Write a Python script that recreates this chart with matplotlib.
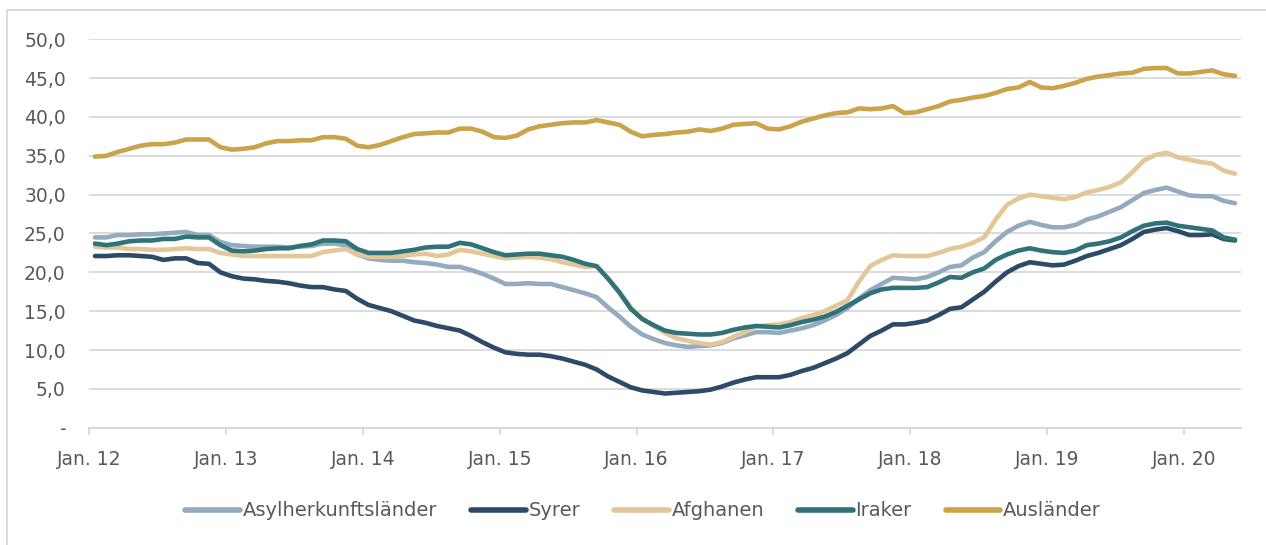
import matplotlib
matplotlib.use("Agg")
import matplotlib.pyplot as plt
from matplotlib.patches import Rectangle
import numpy as np

# Monthly data, Jan 2012 .. May 2020 (101 months)
tick_labels = ["Jan. 12", "Jan. 13", "Jan. 14", "Jan. 15", "Jan. 16",
               "Jan. 17", "Jan. 18", "Jan. 19", "Jan. 20"]
y_labels = ["-", "5,0", "10,0", "15,0", "20,0", "25,0", "30,0", "35,0",
            "40,0", "45,0", "50,0"]

auslaender = [34.9, 35.0, 35.5, 35.9, 36.3, 36.5, 36.5, 36.7, 37.1, 37.1, 37.1, 36.1,
              35.8, 35.9, 36.1, 36.6, 36.9, 36.9, 37.0, 37.0, 37.4, 37.4, 37.2, 36.3,
              36.1, 36.4, 36.9, 37.4, 37.8, 37.9, 38.0, 38.0, 38.5, 38.5, 38.1, 37.4,
              37.3, 37.6, 38.4, 38.8, 39.0, 39.2, 39.3, 39.3, 39.6, 39.3, 39.0, 38.1,
              37.5, 37.7, 37.8, 38.0, 38.1, 38.4, 38.2, 38.5, 39.0, 39.1, 39.2, 38.5,
              38.4, 38.8, 39.4, 39.8, 40.2, 40.5, 40.6, 41.1, 41.0, 41.1, 41.4, 40.5,
              40.6, 41.0, 41.4, 42.0, 42.2, 42.5, 42.7, 43.1, 43.6, 43.8, 44.5, 43.8,
              43.7, 44.0, 44.4, 44.9, 45.2, 45.4, 45.6, 45.7, 46.2, 46.3, 46.3, 45.6,
              45.6, 45.8, 46.0, 45.5, 45.3]

syrer = [22.1, 22.1, 22.2, 22.2, 22.1, 22.0, 21.6, 21.8, 21.8, 21.2, 21.1, 20.0,
         19.5, 19.2, 19.1, 18.9, 18.8, 18.6, 18.3, 18.1, 18.1, 17.8, 17.6, 16.6,
         15.8, 15.4, 15.0, 14.4, 13.8, 13.5, 13.1, 12.8, 12.5, 11.8, 11.0, 10.3,
         9.7, 9.5, 9.4, 9.4, 9.2, 8.9, 8.5, 8.1, 7.5, 6.6, 5.9, 5.2,
         4.8, 4.6, 4.4, 4.5, 4.6, 4.7, 4.9, 5.3, 5.8, 6.2, 6.5, 6.5,
         6.5, 6.8, 7.3, 7.7, 8.3, 8.9, 9.6, 10.7, 11.8, 12.5, 13.3, 13.3,
         13.5, 13.8, 14.5, 15.3, 15.5, 16.5, 17.5, 18.8, 20.0, 20.8, 21.3, 21.1,
         20.9, 21.0, 21.5, 22.1, 22.5, 23.0, 23.5, 24.3, 25.2, 25.5, 25.7, 25.3,
         24.8, 24.8, 24.9, 24.3, 24.1]

asyl = [24.5, 24.5, 24.8, 24.8, 24.9, 24.9, 25.0, 25.1, 25.2, 24.8, 24.8, 23.9,
        23.5, 23.4, 23.3, 23.3, 23.3, 23.2, 23.3, 23.4, 23.7, 23.7, 23.5, 22.3,
        21.8, 21.6, 21.5, 21.5, 21.3, 21.2, 21.0, 20.7, 20.7, 20.3, 19.8, 19.2,
        18.5, 18.5, 18.6, 18.5, 18.5, 18.1, 17.7, 17.3, 16.8, 15.5, 14.3, 13.0,
        12.0, 11.4, 10.9, 10.6, 10.4, 10.5, 10.6, 10.9, 11.5, 11.9, 12.3, 12.3,
        12.2, 12.5, 12.8, 13.2, 13.8, 14.5, 15.4, 16.6, 17.7, 18.5, 19.3, 19.2,
        19.1, 19.4, 20.0, 20.7, 20.9, 21.9, 22.6, 24.0, 25.2, 26.0, 26.5, 26.1,
        25.8, 25.8, 26.1, 26.8, 27.2, 27.8, 28.4, 29.3, 30.2, 30.6, 30.9, 30.4,
        29.9, 29.8, 29.8, 29.2, 28.9]

afghanen = [23.3, 23.2, 23.2, 23.0, 23.0, 22.9, 22.9, 23.0, 23.1, 23.0, 23.0, 22.5,
            22.3, 22.1, 22.1, 22.1, 22.1, 22.1, 22.1, 22.1, 22.6, 22.8, 23.0, 22.3,
            22.0, 22.0, 22.0, 22.1, 22.3, 22.4, 22.1, 22.3, 22.9, 22.7, 22.4, 22.1,
            21.8, 21.9, 22.0, 21.9, 21.7, 21.3, 21.0, 20.7, 20.8, 19.2, 17.5, 15.5,
            14.0, 13.1, 12.2, 11.5, 11.2, 10.9, 10.7, 11.0, 11.7, 12.3, 13.0, 13.2,
            13.3, 13.6, 14.1, 14.5, 15.0, 15.7, 16.4, 18.8, 20.8, 21.6, 22.2, 22.1,
            22.1, 22.1, 22.5, 23.0, 23.3, 23.8, 24.5, 26.8, 28.7, 29.5, 30.0, 29.8,
            29.6, 29.4, 29.7, 30.3, 30.6, 31.0, 31.6, 32.9, 34.4, 35.1, 35.4, 34.8,
            34.5, 34.2, 34.0, 33.1, 32.7]

iraker = [23.7, 23.5, 23.7, 24.0, 24.1, 24.1, 24.3, 24.3, 24.6, 24.5, 24.5, 23.5,
          22.8, 22.7, 22.8, 23.0, 23.1, 23.1, 23.4, 23.6, 24.1, 24.1, 24.0, 23.0,
          22.5, 22.5, 22.5, 22.7, 22.9, 23.2, 23.3, 23.3, 23.8, 23.6, 23.1, 22.6,
          22.2, 22.3, 22.4, 22.4, 22.2, 22.0, 21.6, 21.1, 20.8, 19.2, 17.4, 15.3,
          14.0, 13.2, 12.5, 12.2, 12.1, 12.0, 12.0, 12.2, 12.6, 12.9, 13.1, 13.0,
          12.9, 13.2, 13.6, 13.9, 14.3, 14.9, 15.7, 16.5, 17.3, 17.8, 18.0, 18.0,
          18.0, 18.1, 18.7, 19.4, 19.3, 20.0, 20.5, 21.6, 22.3, 22.8, 23.1, 22.8,
          22.6, 22.5, 22.8, 23.5, 23.7, 24.0, 24.5, 25.3, 26.0, 26.3, 26.4, 26.0,
          25.8, 25.6, 25.4, 24.5, 24.2]

series = [
    ("Asylherkunftsländer", asyl, "#93AABF"),
    ("Syrer", syrer, "#2D4A68"),
    ("Afghanen", afghanen, "#E3C798"),
    ("Iraker", iraker, "#2F7378"),
    ("Ausländer", auslaender, "#CBA34B"),
]

plt.rcParams['font.family'] = ['DejaVu Sans']
text_color = "#595959"
grid_color = "#D9D9D9"

W, H = 1266, 545
fig = plt.figure(figsize=(W / 100, H / 100), dpi=100)
ax = fig.add_axes([89.3 / W, 1 - 427.7 / H, (1240.7 - 89.3) / W, (427.7 - 39.3) / H])

n = len(auslaender)
x = np.arange(n) + 0.5
for name, vals, col in series:
    ax.plot(x, vals, color=col, lw=3.3, label=name, solid_capstyle="round",
            solid_joinstyle="round")

ax.set_xlim(0, n)
ax.set_ylim(0, 50)
ax.set_yticks(np.arange(0, 51, 5))
ax.set_yticklabels(y_labels)
ax.set_xticks(np.arange(0, 12 * len(tick_labels), 12))
ax.set_xticklabels(tick_labels)
ax.yaxis.grid(True, color=grid_color, lw=1.3)
ax.set_axisbelow(True)
for s in ["left", "right", "top"]:
    ax.spines[s].set_visible(False)
ax.spines["bottom"].set_color(grid_color)
ax.spines["bottom"].set_linewidth(1.5)
ax.tick_params(axis="y", length=0, pad=17, labelsize=13.5, labelcolor=text_color)
ax.tick_params(axis="x", length=5, width=1.3, color=grid_color, pad=11,
               labelsize=13.5, labelcolor=text_color)

leg = fig.legend(loc="center", bbox_to_anchor=(0.508, 1 - 511 / H), ncol=5,
                 frameon=False, fontsize=14, handlelength=2.8,
                 handletextpad=0.15, columnspacing=1.75)
for t in leg.get_texts():
    t.set_color(text_color)
for l in leg.get_lines():
    l.set_linewidth(4)

# chart border
fig.patches.append(Rectangle((7 / W, -0.05), 1.1, 1 - 10 / H + 0.05,
                             transform=fig.transFigure, fill=False,
                             edgecolor=grid_color, lw=1.3))

fig.savefig("out.png", dpi=100)
